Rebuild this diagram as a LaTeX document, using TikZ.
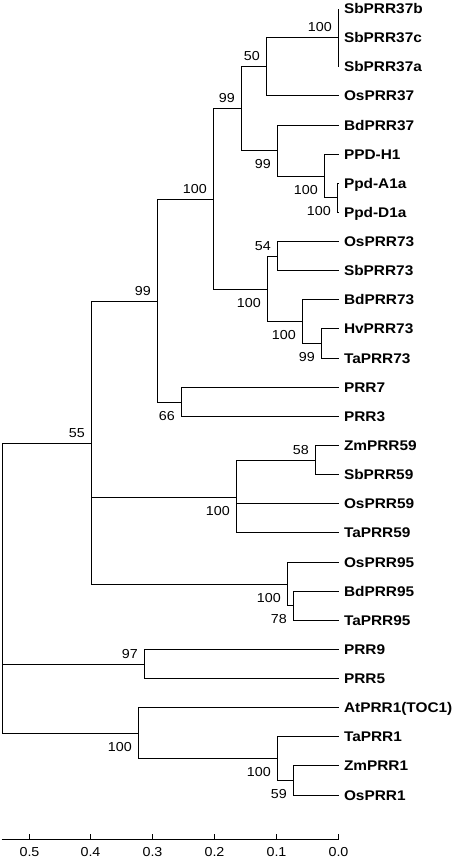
\documentclass[tikz,border=0pt]{standalone}
\usepackage{fontspec}
\newfontfamily\leaffont[FakeStretch=1.1]{Liberation Sans}
\newfontfamily\bsfont[FakeStretch=1.1]{Liberation Sans}
\begin{document}
\begin{tikzpicture}[x=1pt,y=-1pt,
  br/.style={line width=1.2pt},
  leaf/.style={anchor=west, inner xsep=5.5pt, inner ysep=0pt, outer sep=0pt,
    text height=10pt, text depth=0pt, font=\leaffont\bfseries\fontsize{14}{14}\selectfont},
  bsa/.style={anchor=south east, inner sep=0pt, text depth=0pt, font=\bsfont\fontsize{13}{13}\selectfont},
  bsb/.style={anchor=north east, inner sep=0pt, text depth=0pt, font=\bsfont\fontsize{13}{13}\selectfont},
  tick/.style={anchor=north, inner sep=0pt, text depth=0pt, font=\bsfont\fontsize{13}{13}\selectfont}]
\useasboundingbox (0,0) rectangle (454,860);

% leaves
\node[leaf] (L0)  at (338.5,8.5)   {SbPRR37b};
\node[leaf] (L1)  at (338.5,37.5)  {SbPRR37c};
\node[leaf] (L2)  at (338.5,66.5)  {SbPRR37a};
\node[leaf] (L3)  at (338.5,95.5)  {OsPRR37};
\node[leaf] (L4)  at (338.5,125.5) {BdPRR37};
\node[leaf] (L5)  at (338.5,154.5) {PPD-H1};
\node[leaf] (L6)  at (338.5,183.5) {Ppd-A1a};
\node[leaf] (L7)  at (338.5,212.5) {Ppd-D1a};
\node[leaf] (L8)  at (338.5,241.5) {OsPRR73};
\node[leaf] (L9)  at (338.5,270.5) {SbPRR73};
\node[leaf] (L10) at (338.5,299.5) {BdPRR73};
\node[leaf] (L11) at (338.5,328.5) {HvPRR73};
\node[leaf] (L12) at (338.5,358.5) {TaPRR73};
\node[leaf] (L13) at (338.5,387.5) {PRR7};
\node[leaf] (L14) at (338.5,416.5) {PRR3};
\node[leaf] (L15) at (338.5,445.5) {ZmPRR59};
\node[leaf] (L16) at (338.5,474.5) {SbPRR59};
\node[leaf] (L17) at (338.5,503.5) {OsPRR59};
\node[leaf] (L18) at (338.5,532.5) {TaPRR59};
\node[leaf] (L19) at (338.5,562.5) {OsPRR95};
\node[leaf] (L20) at (338.5,591.5) {BdPRR95};
\node[leaf] (L21) at (338.5,620.5) {TaPRR95};
\node[leaf] (L22) at (338.5,649.5) {PRR9};
\node[leaf] (L23) at (338.5,678.5) {PRR5};
\node[leaf] (L24) at (338.5,707.5) {AtPRR1(TOC1)};
\node[leaf] (L25) at (338.5,736.5) {TaPRR1};
\node[leaf] (L26) at (338.5,765.5) {ZmPRR1};
\node[leaf] (L27) at (338.5,795.5) {OsPRR1};

% internal nodes
\coordinate (a) at (338.5,37.5);
\coordinate (b) at (266.5,66.5);
\coordinate (c) at (337.5,197.5);
\coordinate (d) at (324.5,176.5);
\coordinate (e) at (277.5,150.5);
\coordinate (f) at (241.5,108.5);
\coordinate (g) at (277.5,256.5);
\coordinate (h) at (321.5,343.5);
\coordinate (i) at (302.5,321.5);
\coordinate (j) at (267.5,289.5);
\coordinate (k) at (213.5,199.5);
\coordinate (l) at (181.5,402.5);
\coordinate (m) at (157.5,301.5);
\coordinate (n) at (315.5,460.5);
\coordinate (o) at (236.5,497.5);
\coordinate (p) at (293.5,605.5);
\coordinate (q) at (287.5,584.5);
\coordinate (r) at (91.5,443.5);
\coordinate (s) at (144.5,664.5);
\coordinate (t) at (293.5,780.5);
\coordinate (u) at (277.5,758.5);
\coordinate (v) at (138.5,733.5);
\coordinate (root) at (2.5,588.5);

% branches
\draw[br] (a) |- (L0.west) (a) |- (L1.west) (a) |- (L2.west);
\draw[br] (b) |- (a) (b) |- (L3.west);
\draw[br] (c) |- (L6.west) (c) |- (L7.west);
\draw[br] (d) |- (L5.west) (d) |- (c);
\draw[br] (e) |- (L4.west) (e) |- (d);
\draw[br] (f) |- (b) (f) |- (e);
\draw[br] (g) |- (L8.west) (g) |- (L9.west);
\draw[br] (h) |- (L11.west) (h) |- (L12.west);
\draw[br] (i) |- (L10.west) (i) |- (h);
\draw[br] (j) |- (g) (j) |- (i);
\draw[br] (k) |- (f) (k) |- (j);
\draw[br] (l) |- (L13.west) (l) |- (L14.west);
\draw[br] (m) |- (k) (m) |- (l);
\draw[br] (n) |- (L15.west) (n) |- (L16.west);
\draw[br] (o) |- (n) (o) |- (L17.west) (o) |- (L18.west);
\draw[br] (p) |- (L20.west) (p) |- (L21.west);
\draw[br] (q) |- (L19.west) (q) |- (p);
\draw[br] (r) |- (m) (r) |- (o) (r) |- (q);
\draw[br] (s) |- (L22.west) (s) |- (L23.west);
\draw[br] (t) |- (L26.west) (t) |- (L27.west);
\draw[br] (u) |- (L25.west) (u) |- (t);
\draw[br] (v) |- (L24.west) (v) |- (u);
\draw[br] (root) |- (r) (root) |- (s) (root) |- (v);

% bootstrap values above
\node[bsa] (ba) at ([shift={(-6.5,-6)}]a) {100};
\node[bsa] (bb) at ([shift={(-6.5,-6)}]b) {50};
\node[bsa] (bf) at ([shift={(-6.5,-6)}]f) {99};
\node[bsa] (bk) at ([shift={(-6.5,-6)}]k) {100};
\node[bsa] (bg) at ([shift={(-6.5,-6)}]g) {54};
\node[bsa] (bm) at ([shift={(-6.5,-6)}]m) {99};
\node[bsa] (br) at ([shift={(-6.5,-6)}]r) {55};
\node[bsa] (bn) at ([shift={(-6.5,-6)}]n) {58};
\node[bsa] (bs) at ([shift={(-6.5,-6)}]s) {97};
% bootstrap values below
\node[bsb] (be) at ([shift={(-6.5,8.8)}]e) {99};
\node[bsb] (bd) at ([shift={(-6.5,8.8)}]d) {100};
\node[bsb] (bc) at ([shift={(-6.5,8.8)}]c) {100};
\node[bsb] (bj) at ([shift={(-6.5,8.8)}]j) {100};
\node[bsb] (bi) at ([shift={(-6.5,8.8)}]i) {100};
\node[bsb] (bh) at ([shift={(-6.5,8.8)}]h) {99};
\node[bsb] (bl) at ([shift={(-6.5,8.8)}]l) {66};
\node[bsb] (bo) at ([shift={(-6.5,8.8)}]o) {100};
\node[bsb] (bq) at ([shift={(-6.5,8.8)}]q) {100};
\node[bsb] (bp) at ([shift={(-6.5,8.8)}]p) {78};
\node[bsb] (bv) at ([shift={(-6.5,8.8)}]v) {100};
\node[bsb] (bu) at ([shift={(-6.5,8.8)}]u) {100};
\node[bsb] (bt) at ([shift={(-6.5,8.8)}]t) {59};

% scale bar
\coordinate (s0) at (1.5,839.5);
\coordinate (s1) at (338.5,839.5);
\draw[br] (s0) -- (s1);
\foreach \k/\x/\lab in {0/338.5/0.0,1/276.5/0.1,2/214.5/0.2,3/152.5/0.3,4/90.5/0.4,5/29.5/0.5}{
  \coordinate (tk\k) at (\x,839.5);
  \draw[br] (tk\k) -- ++(0,-6);
  \node[tick] (tl\k) at ([yshift=-7.5pt]tk\k) {\lab};
}
\end{tikzpicture}
\end{document}
